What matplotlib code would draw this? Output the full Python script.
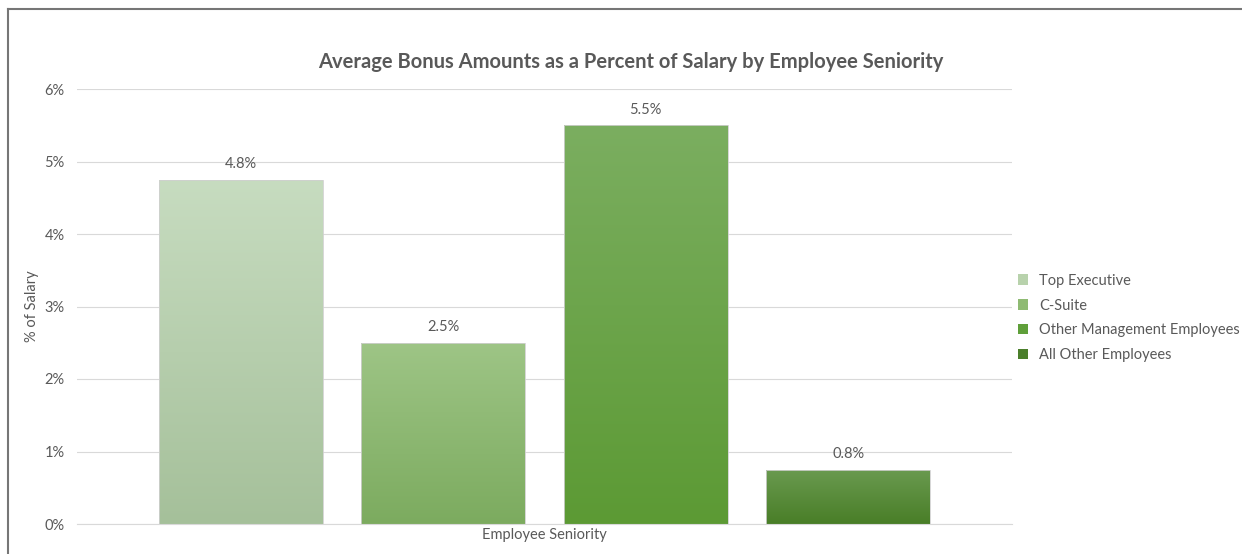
import numpy as np
import matplotlib.pyplot as plt
from matplotlib.lines import Line2D
from matplotlib.patches import Patch
from matplotlib.colors import LinearSegmentedColormap

plt.rcParams['font.family'] = ['Lato', 'DejaVu Sans']

# data
series = ['Top Executive', 'C-Suite', 'Other Management Employees', 'All Other Employees']
values = [4.75, 2.5, 5.5, 0.75]
labels = ['4.8%', '2.5%', '5.5%', '0.8%']
yticks = [0, 1, 2, 3, 4, 5, 6]

# top / bottom colours of the gradient fill per bar
top_cols = ['#c7dcc0', '#9ec586', '#7bae60', '#6a9a50']
bot_cols = ['#a5c09a', '#7cab5f', '#5c9a34', '#497e27']
legend_cols = ['#b8d2ac', '#8fbb73', '#5f9f3a', '#4b7f2b']

W, H = 1242, 554
fig = plt.figure(figsize=(W / 100, H / 100), dpi=100)
ax = fig.add_axes([77 / W, 1 - 524 / H, (1012 - 77) / W, (524 - 89) / H])

grey = '#595959'
x = np.arange(len(values))
width = 0.81
bars = ax.bar(x, values, width=width, color='none', edgecolor='none', zorder=2)

# gradient fill clipped to each bar
for b, v, tc, bc in zip(bars, values, top_cols, bot_cols):
    cmap = LinearSegmentedColormap.from_list('g', [bc, tc])
    grad = np.linspace(0, 1, 256).reshape(-1, 1)
    x0 = b.get_x()
    im = ax.imshow(grad, cmap=cmap, aspect='auto', origin='lower',
                   extent=[x0, x0 + width, 0, v], zorder=2)
    im.set_clip_path(b)
    ax.bar(b.get_x() + width / 2, v, width=width, color='none',
           edgecolor='#d0d0d0', linewidth=0.6, zorder=3)

for xi, v, lab in zip(x, values, labels):
    ax.text(xi, v + 0.12, lab, ha='center', va='bottom', fontsize=10.5, color=grey)

ax.set_xlim(-0.81, 3.81)
ax.set_ylim(0, 6)
ax.set_yticks(yticks)
ax.set_yticklabels([f'{t}%' for t in yticks])
ax.set_xticks([])
ax.tick_params(axis='y', length=0, labelsize=10.5, labelcolor=grey, pad=9)
ax.grid(axis='y', color='#d9d9d9', linewidth=0.8, zorder=0)
ax.set_axisbelow(True)
for s in ['top', 'right', 'left']:
    ax.spines[s].set_visible(False)
ax.spines['bottom'].set_color('#d9d9d9')
ax.spines['bottom'].set_linewidth(0.8)

ax.set_ylabel('% of Salary', fontsize=10.5, color=grey)
ax.yaxis.set_label_coords((39 - 77) / 935, 0.5)
ax.set_xlabel('Employee Seniority', fontsize=10.5, color=grey, labelpad=3)

fig.text(631 / W, 1 - 62 / H, 'Average Bonus Amounts as a Percent of Salary by Employee Seniority',
         ha='center', va='center', fontsize=14.5, fontweight='bold', color=grey)

handles = [Patch(facecolor=c, edgecolor='none') for c in legend_cols]
fig.legend(handles, series, loc='center left', bbox_to_anchor=(1005 / W, 1 - 318 / H),
           frameon=False, fontsize=10.5, labelcolor=grey, handlelength=0.7,
           handleheight=0.7, handletextpad=0.75, labelspacing=0.75)

# outer chart frame (left and top edges visible)
fig.add_artist(Line2D([8 / W, 8 / W], [0, 1 - 9 / H], transform=fig.transFigure,
                      color='#767676', linewidth=1.5))
fig.add_artist(Line2D([8 / W, 1], [1 - 9 / H, 1 - 9 / H], transform=fig.transFigure,
                      color='#767676', linewidth=1.5))

fig.savefig('out.png', dpi=100)
